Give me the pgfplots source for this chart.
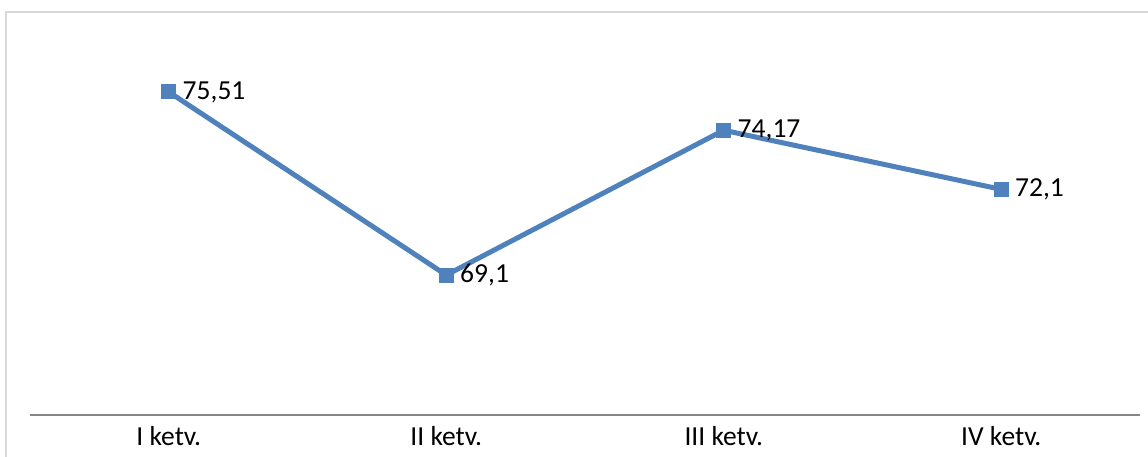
\documentclass[border=0pt]{standalone}
\usepackage{pgfplots}
\pgfplotsset{compat=1.18}
\usepackage{fontspec}
\setmainfont{Carlito}
\definecolor{serie}{HTML}{4F81BD}
\definecolor{axisgray}{HTML}{868686}
\definecolor{framegray}{HTML}{D9D9D9}
\begin{document}
\fontsize{27.5bp}{32bp}\selectfont
\begin{tikzpicture}
\useasboundingbox (0bp,0bp) rectangle (1148bp,457bp);
\clip (0bp,0bp) rectangle (1148bp,457bp);
\draw[framegray, line width=2bp] (6bp,445bp) rectangle (1170bp,-20bp);
\begin{axis}[
    at={(30bp,42bp)}, anchor=south west,
    scale only axis,
    width=1110bp, height=395bp,
    xmin=-0.5, xmax=3.5,
    ymin=64.2, ymax=78.03,
    axis x line*=bottom,
    axis y line=none,
    x axis line style={axisgray, line width=1.5bp, -},
    xtick={0,1,2,3},
    xticklabels={I ketv., II ketv., III ketv., IV ketv.},
    major tick length=0pt,
    xticklabel style={font=\fontsize{27.5bp}{32bp}\selectfont, yshift=-2bp},
    clip=false,
]
\addplot[
    color=serie, line width=5bp,
    mark=square*, mark size=7bp,
    mark options={solid, fill=serie, draw=serie, line width=0pt},
    point meta=explicit symbolic,
    nodes near coords,
    nodes near coords style={anchor=west, xshift=12bp, inner sep=2bp,
        text=black, font=\fontsize{27.5bp}{32bp}\selectfont},
] table[meta=lab] {
x y lab
0 75.51 75,51
1 69.1 69,1
2 74.17 74,17
3 72.1 72,1
};
\end{axis}
\end{tikzpicture}
\end{document}
